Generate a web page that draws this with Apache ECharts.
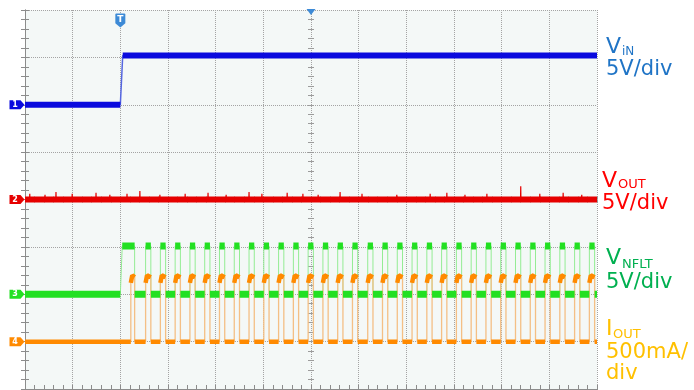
<!DOCTYPE html>
<html>
<head>
<meta charset="utf-8">
<script src="https://cdn.jsdelivr.net/npm/echarts@6/dist/echarts.min.js"></script>
<style>
  html, body { margin: 0; padding: 0; background: #ffffff; }
  #scope { width: 694px; height: 390px; }
</style>
</head>
<body>
<div id="scope"></div>
<script>
// Horizontal axis: time in screen divisions (12 across); vertical: 8 divisions.
const timeSpan = [0, 12];
const vertDivs = 8;

// Channel 1 - input voltage (V), 5 V/div, ground at division 6
const vinLevels = [0, 5.2];
const vinRise = [2.0, 2.05];

// Channel 2 - output voltage (V), 5 V/div, ground at division 4
const voutLevel = 0;
const voutSpikeTimes   = [0.10, 0.42, 0.65, 0.99, 1.49, 1.78, 2.14, 2.41, 2.83, 3.36, 3.84, 4.22, 4.70, 4.97,
                          5.50, 5.83, 6.15, 6.61, 7.07, 7.80, 8.50, 8.85, 9.23, 9.69, 10.40, 10.80, 11.29, 11.68];
const voutSpikeHeights = [0.6, 0.5, 0.8, 0.6, 0.7, 0.5, 0.6, 0.9, 0.5, 0.6, 0.7, 0.5, 0.8, 0.6,
                          0.7, 0.6, 0.5, 0.8, 0.6, 0.5, 0.6, 0.7, 0.5, 0.6, 1.4, 0.6, 0.7, 0.5];

// Channel 3 - nFLT flag (V), 5 V/div, ground at division 2
const nfltLevels = [0, 5.1];
const nfltFirstHigh = [2.0, 2.04, 2.30];   // rise start, rise end, fall

// Retry pulse start times (div), common to nFLT and output current
const pulseStarts = [2.53, 2.84, 3.15, 3.46, 3.77, 4.08, 4.39, 4.70, 5.01, 5.32, 5.63,
                     5.94, 6.25, 6.56, 6.87, 7.19, 7.50, 7.81, 8.12, 8.43, 8.74, 9.05,
                     9.36, 9.67, 9.98, 10.29, 10.60, 10.91, 11.22, 11.53, 11.84];
const pulseWidth = 0.11;

// Channel 4 - output current (A), 500 mA/div, ground at division 1
const ioutBase = 0;
const ioutFirstPulse = [2.22, 2.30];
const ioutPulseTop = [0.62, 0.70, 0.68];   // at rise, at peak, at fall
const ioutPeakDelay = 0.03;

// Scope channel settings: ground position (div) and scale (units/div)
const channels = [
  { id: '1', ground: 6, perDiv: 5,   trace: '#0a0ade', edge: '#5566e0' },
  { id: '2', ground: 4, perDiv: 5,   trace: '#e60000', edge: '#ee4444' },
  { id: '3', ground: 2, perDiv: 5,   trace: '#22e022', edge: '#94ec94' },
  { id: '4', ground: 1, perDiv: 0.5, trace: '#ff8a00', edge: '#f4bf85' }
];

// ---- waveforms ----
const vinWave = [[timeSpan[0], vinLevels[0]], [vinRise[0], vinLevels[0]],
                 [vinRise[1], vinLevels[1]], [timeSpan[1], vinLevels[1]]];

const nfltWave = [[timeSpan[0], nfltLevels[0]], [nfltFirstHigh[0], nfltLevels[0]],
                  [nfltFirstHigh[1], nfltLevels[1]], [nfltFirstHigh[2], nfltLevels[1]],
                  [nfltFirstHigh[2], nfltLevels[0]]];
pulseStarts.forEach(s => {
  nfltWave.push([s, nfltLevels[0]], [s, nfltLevels[1]],
                [s + pulseWidth, nfltLevels[1]], [s + pulseWidth, nfltLevels[0]]);
});
nfltWave.push([timeSpan[1], nfltLevels[0]]);

function currentPulse(start, end) {
  return [[start, ioutBase], [start, ioutPulseTop[0]], [start + ioutPeakDelay, ioutPulseTop[1]],
          [end, ioutPulseTop[2]], [end, ioutBase]];
}
const ioutWave = [[timeSpan[0], ioutBase]]
  .concat(currentPulse(ioutFirstPulse[0], ioutFirstPulse[1]));
pulseStarts.forEach(s => { ioutWave.push(...currentPulse(s, s + pulseWidth)); });
ioutWave.push([timeSpan[1], ioutBase]);

const voutWave = [[timeSpan[0], voutLevel], [timeSpan[1], voutLevel]];
const voutSpikes = [];
voutSpikeTimes.forEach((t, i) => {
  voutSpikes.push([t - 0.004, voutLevel], [t, voutLevel + voutSpikeHeights[i]],
                  [t + 0.004, voutLevel], [t + 0.004, '-']);
});

// Settled (flat) parts are drawn thick; fast edges stay thin.
function settledParts(points, tol) {
  const out = [];
  let last = null;
  for (let i = 0; i < points.length - 1; i++) {
    const [t1, v1] = points[i], [t2, v2] = points[i + 1];
    if (t2 - t1 > 1e-6 && Math.abs(v2 - v1) <= tol) {
      if (!last || last[0] !== t1 || last[1] !== v1) {
        if (out.length) out.push([t1, '-']);
        out.push([t1, v1]);
      }
      out.push([t2, v2]);
      last = [t2, v2];
    }
  }
  return out;
}

// ---- axes ----
const frame = '#8c8c8c';
const minor = { show: true, splitNumber: 5, length: 4, lineStyle: { color: frame, width: 1 } };
function xFrame(pos, extra) {
  return Object.assign({
    type: 'value', position: pos, min: timeSpan[0], max: timeSpan[1], interval: 1,
    axisLine: { show: true, lineStyle: { color: frame, width: 1 } },
    axisTick: { show: true, inside: true, length: 4, lineStyle: { color: frame } },
    minorTick: minor, axisLabel: { show: false }, splitLine: { show: false }
  }, extra || {});
}
function yFrame(pos, extra) {
  return Object.assign({
    type: 'value', position: pos, min: 0, max: vertDivs, interval: 1,
    axisLine: { show: true, lineStyle: { color: frame, width: 1 } },
    axisTick: { show: true, inside: true, length: 4, lineStyle: { color: frame } },
    minorTick: minor, axisLabel: { show: false }, splitLine: { show: false }
  }, extra || {});
}
const gridLine = { show: true, lineStyle: { color: '#a4a4a4', type: 'dotted', width: 1 } };
const centreTick = (inside) => ({ show: true, inside: inside, length: 3, lineStyle: { color: '#9c9c9c' } });
const centreMinor = (inside) => ({ show: true, splitNumber: 5, length: 3, lineStyle: { color: '#9c9c9c' } });

const xAxes = [
  xFrame('bottom', { splitLine: gridLine }),
  xFrame('top'),
  xFrame('bottom', { offset: -189.5, axisLine: { show: false }, axisTick: centreTick(true), minorTick: centreMinor(true) }),
  xFrame('bottom', { offset: -189.5, axisLine: { show: false }, axisTick: centreTick(false), minorTick: centreMinor(false) })
];
const yAxes = [
  yFrame('left', { splitLine: gridLine }),
  yFrame('right'),
  yFrame('left', { offset: -286, axisLine: { show: false }, axisTick: centreTick(true), minorTick: centreMinor(true) }),
  yFrame('left', { offset: -286, axisLine: { show: false }, axisTick: centreTick(false), minorTick: centreMinor(false) })
];
channels.forEach(c => {
  yAxes.push({ type: 'value', show: false,
               min: -c.ground * c.perDiv, max: (vertDivs - c.ground) * c.perDiv });
});

// ---- series ----
const tagPath = 'path://M0,0 H11 L15,4.5 L11,9 H0 Z';
function tag(c, level) {
  return {
    coord: [timeSpan[0], level], symbol: tagPath, symbolSize: [15, 9], symbolOffset: [-8, 0],
    itemStyle: { color: c.trace },
    label: { show: true, position: 'inside', formatter: c.id, color: '#ffffff',
             fontSize: 8, fontWeight: 'bold', fontFamily: 'DejaVu Sans', offset: [-2, 0] }
  };
}
function traceSeries(c, idx, wave, tol, width, edgeWidth, extraMarks) {
  const yi = 4 + idx;
  const marks = [tag(c, wave[0][1])].concat(extraMarks || []);
  return [
    { type: 'line', name: 'edge' + c.id, xAxisIndex: 0, yAxisIndex: yi, data: wave,
      showSymbol: false, clip: false, silent: true, z: 2 + idx * 0.1,
      lineStyle: { color: c.edge, width: edgeWidth } },
    { type: 'line', name: 'ch' + c.id, xAxisIndex: 0, yAxisIndex: yi, data: settledParts(wave, tol),
      showSymbol: false, clip: false, silent: true, connectNulls: false, z: 3 + idx * 0.1,
      lineStyle: { color: c.trace, width: width, cap: 'butt' },
      markPoint: { silent: true, data: marks } }
  ];
}

const markerBlue = '#3d8ad6';
const topMarks = [
  { coord: [vinRise[0], (vertDivs - channels[0].ground) * channels[0].perDiv],
    symbol: 'path://M1,0 H9 Q10,0 10,1 V9 L5,13 L0,9 V1 Q0,0 1,0 Z',
    symbolSize: [10, 14], symbolOffset: [0, 10.5], itemStyle: { color: markerBlue },
    label: { show: true, position: 'inside', formatter: 'T', color: '#ffffff',
             fontSize: 9, fontWeight: 'bold', fontFamily: 'DejaVu Sans', offset: [0, -1] } },
  { coord: [(timeSpan[0] + timeSpan[1]) / 2, (vertDivs - channels[0].ground) * channels[0].perDiv],
    symbol: 'triangle', symbolRotate: 180, symbolSize: [9, 6], symbolOffset: [0, 2],
    itemStyle: { color: markerBlue }, label: { show: false } }
];

const series = []
  .concat(traceSeries(channels[0], 0, vinWave, 1, 6, 1.5, topMarks))
  .concat(traceSeries(channels[1], 1, voutWave, 1, 6, 1))
  .concat(traceSeries(channels[2], 2, nfltWave, 1, 7, 1))
  .concat(traceSeries(channels[3], 3, ioutWave, 0.2, 4.5, 1.3));
series.push({ type: 'line', name: 'voutSpikes', xAxisIndex: 0, yAxisIndex: 5, data: voutSpikes,
              showSymbol: false, clip: false, silent: true, connectNulls: false, z: 2.5,
              lineStyle: { color: channels[1].trace, width: 1.2 } });

// ---- channel captions ----
const capFont = 'DejaVu Sans';
function cap(text, x, y, size, color) {
  return { type: 'text', x: x, y: y, silent: true,
           style: { text: text, fill: color, font: size + 'px "' + capFont + '"',
                    verticalAlign: 'middle', textVerticalAlign: 'middle' } };
}
const vinCol = '#1f74c6', voutCol = '#ff0000', nfltCol = '#00b050', ioutCol = '#ffc000';
const captions = [
  cap('V', 606, 47, 22, vinCol), cap('iN', 622, 52, 12, vinCol), cap('5V/div', 606, 70, 21, vinCol),
  cap('V', 602, 181, 22, voutCol), cap('OUT', 618, 185, 13, voutCol), cap('5V/div', 602, 204, 21, voutCol),
  cap('V', 606, 258, 22, nfltCol), cap('NFLT', 622, 265, 13, nfltCol), cap('5V/div', 606, 283, 21, nfltCol),
  cap('I', 606, 329, 22, ioutCol), cap('OUT', 613, 335, 13, ioutCol), cap('500mA/', 606, 353, 21, ioutCol),
  cap('div', 606, 374, 21, ioutCol)
];

const chart = echarts.init(document.getElementById('scope'));
chart.setOption({
  animation: false,
  backgroundColor: '#ffffff',
  grid: { left: 25, top: 10, width: 572, height: 379, show: true,
          backgroundColor: '#f4f8f7', borderWidth: 0 },
  xAxis: xAxes,
  yAxis: yAxes,
  series: series,
  graphic: captions
});
</script>
</body>
</html>
